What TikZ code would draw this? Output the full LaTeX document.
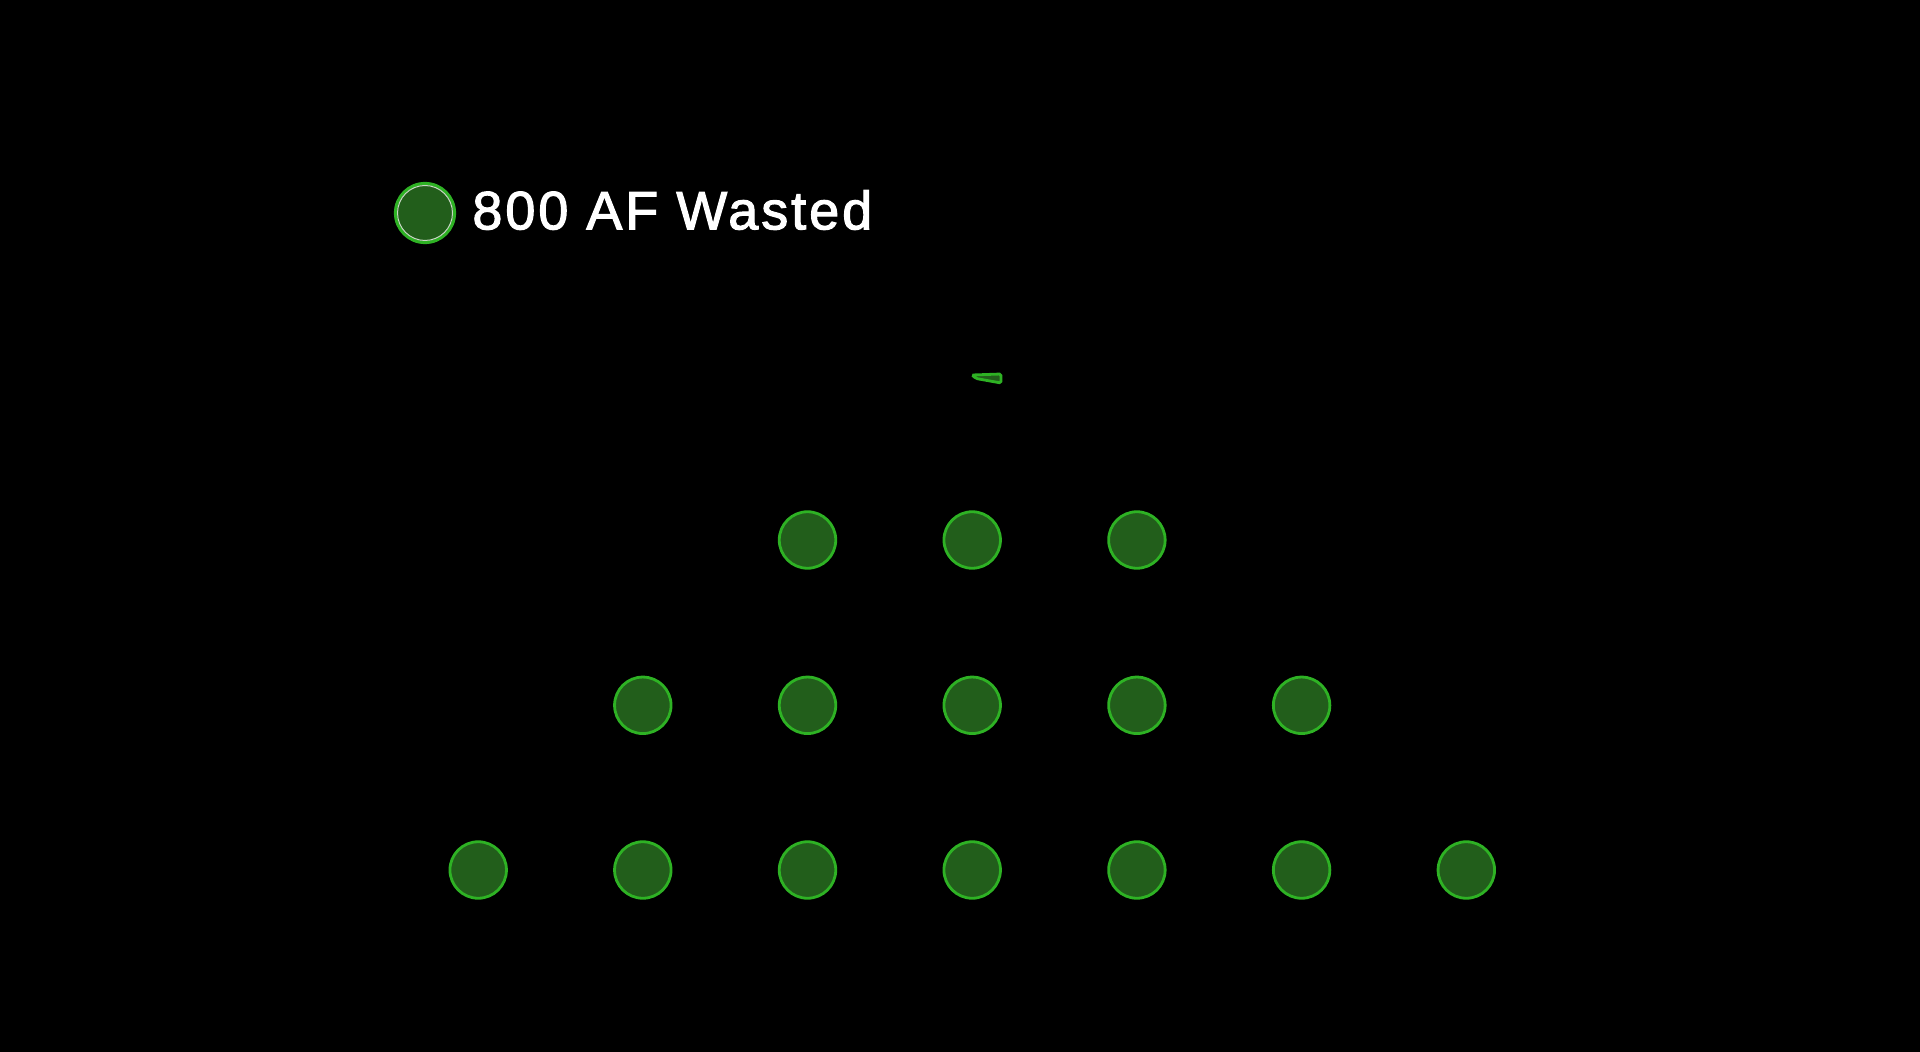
\documentclass[tikz,border=0pt]{standalone}
\usepackage{fontspec}
\setmainfont{Liberation Sans}
\newfontfamily\lblfont{Liberation Sans}[FakeBold=2,LetterSpace=5.5]
\definecolor{dotfill}{RGB}{34,94,27}
\definecolor{dotline}{RGB}{46,178,36}
\definecolor{ringgrey}{RGB}{200,214,196}
\begin{document}
\begin{tikzpicture}[x=0.5pt,y=-0.5pt,
  dot/.style={circle, fill=dotfill, draw=dotline, line width=1.4pt, minimum size=28.25pt, inner sep=0pt},
  legdot/.style={circle, fill=dotfill, draw=dotline, line width=1.6pt, minimum size=29.5pt, inner sep=0pt},
  lbl/.style={anchor=base west, inner sep=0pt, text=white, font=\lblfont\fontsize{27pt}{32pt}\selectfont}]
\fill[black] (0,0) rectangle (1920,1052);
\useasboundingbox (0,0) rectangle (1920,1052);
% legend
\node[legdot] (leg) at (425,213) {};
\draw[ringgrey, line width=0.5pt] (leg.center) circle (13.75pt);
\node[lbl] (legtext) at (472,229.3) {800 AF Wasted};
% small falling drop
\draw[fill=dotfill, draw=dotline, line width=1.4pt, rounded corners=0.8pt]
  (972,375) -- (1001,374) -- (1001,383) -- (976,378.5) -- cycle;
% row 1
\foreach \c/\x in {3/807.5,4/972.2,5/1136.9}
  \node[dot] (r1c\c) at (\x,540) {};
% row 2
\foreach \c/\x in {2/642.8,3/807.5,4/972.2,5/1136.9,6/1301.6}
  \node[dot] (r2c\c) at (\x,705.3) {};
% row 3
\foreach \c/\x in {1/478.2,2/642.8,3/807.5,4/972.2,5/1136.9,6/1301.6,7/1466.3}
  \node[dot] (r3c\c) at (\x,870) {};
\end{tikzpicture}
\end{document}
